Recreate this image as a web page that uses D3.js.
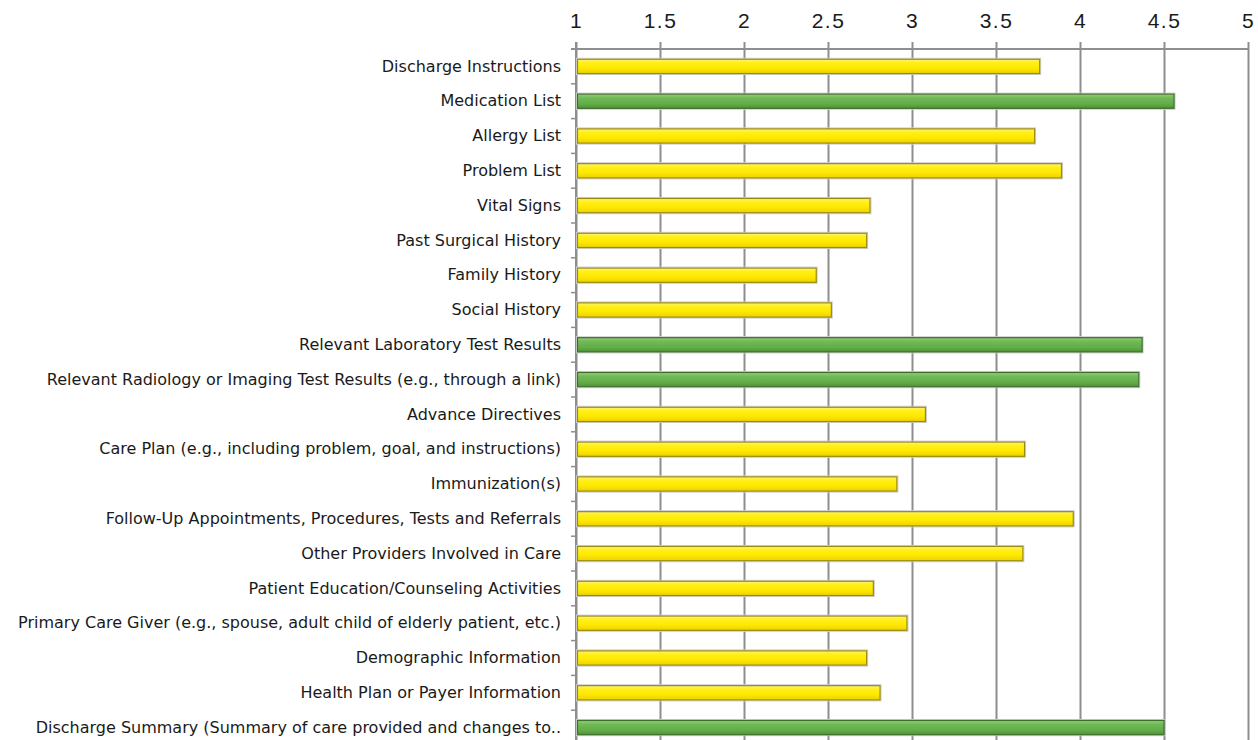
<!DOCTYPE html>
<html>
<head>
<meta charset="utf-8">
<script src="https://cdn.jsdelivr.net/npm/d3@7"></script>
<style>
  html, body { margin: 0; padding: 0; background: #ffffff; }
  svg { display: block; }
</style>
</head>
<body>
<svg id="chart" width="1258" height="740"></svg>
<script>
// Rated importance of each discharge-summary element (scale 1–5)
const categories = [
  "Discharge Instructions",
  "Medication List",
  "Allergy List",
  "Problem List",
  "Vital Signs",
  "Past Surgical History",
  "Family History",
  "Social History",
  "Relevant Laboratory Test Results",
  "Relevant Radiology or Imaging Test Results (e.g., through a link)",
  "Advance Directives",
  "Care Plan (e.g., including problem, goal, and instructions)",
  "Immunization(s)",
  "Follow-Up Appointments, Procedures, Tests and Referrals",
  "Other Providers Involved in Care",
  "Patient Education/Counseling Activities",
  "Primary Care Giver (e.g., spouse, adult child of elderly patient, etc.)",
  "Demographic Information",
  "Health Plan or Payer Information",
  "Discharge Summary (Summary of care provided and changes to.."
];
const scores = [
  3.76, 4.56, 3.73, 3.89, 2.75, 2.73, 2.43, 2.52, 4.37, 4.35,
  3.08, 3.67, 2.91, 3.96, 3.66, 2.77, 2.97, 2.73, 2.81, 4.50
];
// Highest-rated elements are drawn in green
const tiers = [
  "mid", "top", "mid", "mid", "mid", "mid", "mid", "mid", "top", "top",
  "mid", "mid", "mid", "mid", "mid", "mid", "mid", "mid", "mid", "top"
];
const tickValues = [1, 1.5, 2, 2.5, 3, 3.5, 4, 4.5, 5];
const tickLabels = ["1", "1.5", "2", "2.5", "3", "3.5", "4", "4.5", "5"];

const rows = categories.map((c, i) => ({ name: c, value: scores[i], tier: tiers[i] }));

const svg = d3.select("#chart");
const plot = { left: 576, right: 1248, top: 49, bottom: 745 };

const x = d3.scaleLinear().domain([1, 5]).range([plot.left, plot.right]);
const y = d3.scaleBand()
  .domain(categories)
  .range([plot.top, plot.bottom])
  .paddingInner(0.59)
  .paddingOuter(0.295);

// Bar gradients
const defs = svg.append("defs");
function barGradient(id, stops) {
  const g = defs.append("linearGradient").attr("id", id)
    .attr("x1", 0).attr("y1", 0).attr("x2", 0).attr("y2", 1);
  stops.forEach(([o, c]) => g.append("stop").attr("offset", o).attr("stop-color", c));
}
barGradient("grad-mid", [[0, "#fff37f"], [0.22, "#fff01c"], [0.6, "#ffe900"], [1, "#ebd200"]]);
barGradient("grad-top", [[0, "#92d077"], [0.28, "#70b956"], [0.7, "#62ad48"], [1, "#4f9039"]]);
const strokeColor = { mid: "#9b8b12", top: "#3f6e2c" };

// Vertical gridlines
const grid = svg.append("g")
  .attr("transform", `translate(0,${plot.top})`)
  .call(d3.axisBottom(x).tickValues(tickValues).tickSize(plot.bottom - plot.top).tickFormat(""));
grid.select(".domain").remove();
grid.selectAll("line").attr("stroke", "#8e8e8e").attr("stroke-width", 2);

// Category boundary ticks on the left edge
const step = y.step();
svg.append("g").selectAll("line")
  .data(d3.range(categories.length + 1))
  .join("line")
  .attr("x1", plot.left - 5).attr("x2", plot.left)
  .attr("y1", i => plot.top + i * step).attr("y2", i => plot.top + i * step)
  .attr("stroke", "#8e8e8e").attr("stroke-width", 1.5);

// Left axis line
svg.append("line")
  .attr("x1", plot.left).attr("x2", plot.left)
  .attr("y1", plot.top - 7).attr("y2", plot.bottom)
  .attr("stroke", "#8e8e8e").attr("stroke-width", 2);

// Value axis along the top
const valueAxis = svg.append("g")
  .attr("transform", `translate(0,${plot.top})`)
  .call(d3.axisTop(x).tickValues(tickValues).tickSizeInner(7).tickSizeOuter(0)
    .tickPadding(14).tickFormat((d, i) => tickLabels[i]));
valueAxis.select(".domain")
  .attr("d", `M${plot.left - 5},0H${plot.right}`)
  .attr("stroke", "#8e8e8e").attr("stroke-width", 2);
valueAxis.selectAll(".tick line").attr("stroke", "#8e8e8e").attr("stroke-width", 2);
valueAxis.selectAll(".tick text")
  .attr("fill", "#1a1a1a")
  .style("font-family", "'Liberation Sans', Arial, sans-serif")
  .style("font-size", "21px")
  .style("letter-spacing", "1.5px");

// Soft outline behind each bar
svg.append("g").selectAll("rect")
  .data(rows)
  .join("rect")
  .attr("x", x(1) + 0.5)
  .attr("y", d => y(d.name) - 1)
  .attr("width", d => x(d.value) - x(1) + 0.5)
  .attr("height", y.bandwidth() + 2)
  .attr("fill", "none")
  .attr("stroke", "#cfcfcf")
  .attr("stroke-width", 1);

// Bars
svg.append("g").selectAll("rect")
  .data(rows)
  .join("rect")
  .attr("x", x(1) + 1.5)
  .attr("y", d => y(d.name))
  .attr("width", d => x(d.value) - x(1) - 1.5)
  .attr("height", y.bandwidth())
  .attr("fill", d => `url(#grad-${d.tier})`)
  .attr("stroke", d => strokeColor[d.tier])
  .attr("stroke-width", 1.2);

// Category labels
const categoryAxis = svg.append("g")
  .attr("transform", `translate(${plot.left},0)`)
  .call(d3.axisLeft(y).tickSize(0).tickPadding(15));
categoryAxis.select(".domain").remove();
categoryAxis.selectAll(".tick text")
  .attr("fill", "#1a1a1a")
  .style("font-family", "'DejaVu Sans', Verdana, sans-serif")
  .style("font-size", "16px");
</script>
</body>
</html>
